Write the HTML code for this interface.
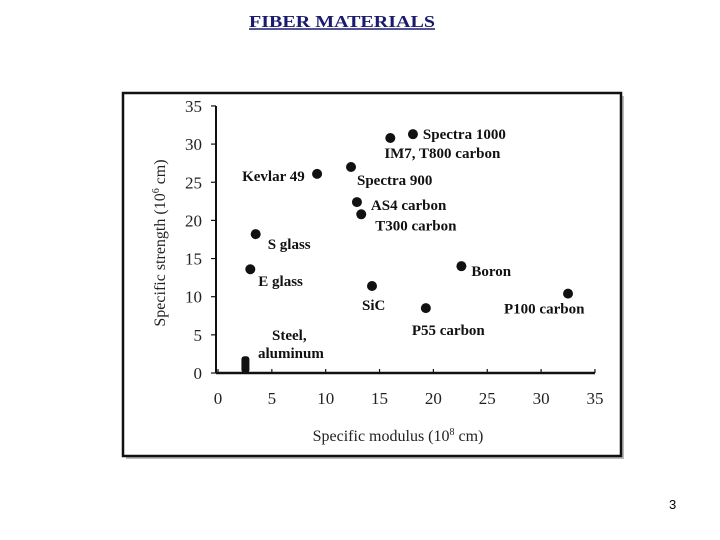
<!DOCTYPE html>
<html><head><meta charset="utf-8"><style>
body{margin:0;background:#fff;}
svg{display:block;}
</style></head><body>
<svg width="720" height="540" viewBox="0 0 720 540" xmlns="http://www.w3.org/2000/svg" font-family="Liberation Serif, serif">
<text x="249" y="27" font-size="17" font-weight="bold" fill="#1a1a6e" textLength="186" lengthAdjust="spacingAndGlyphs">FIBER MATERIALS</text>
<line x1="249" y1="29" x2="435" y2="29" stroke="#1a1a6e" stroke-width="1.4"/>
<rect x="126" y="96" width="498" height="363" fill="#bbb"/>
<rect x="123" y="93" width="498" height="363" fill="#fff" stroke="#111" stroke-width="2.5"/>
<g id="chart"></g>
<text x="669" y="509" font-size="13" font-family="Liberation Sans, sans-serif">3</text>
</svg>
<script>
const names=["Spectra 1000","IM7, T800 carbon","Kevlar 49","Spectra 900","AS4 carbon","T300 carbon","S glass","E glass","SiC","Boron","P55 carbon","P100 carbon"];
const modulus=[18.1,16.0,9.2,12.35,12.9,13.3,3.5,3.0,14.3,22.6,19.3,32.5];
const strength=[31.3,30.8,26.1,27.0,22.4,20.8,18.2,13.6,11.4,14.0,8.5,10.4];
const labelDx=[10,-6,-75,6,14,14,12,8,-10,10,-14,-64];
const labelDy=[5,20,7,18,8,16,15,17,24,10,27,20];
const ticks=[0,5,10,15,20,25,30,35];
const steel=[2.5,2.2];
const NS="http://www.w3.org/2000/svg";
const g=document.getElementById('chart');
const X=v=>218+v*10.77, Y=v=>373-v*7.63;
function el(t,a,txt){const e=document.createElementNS(NS,t);for(const k in a)e.setAttribute(k,a[k]);if(txt!==undefined)e.textContent=txt;g.appendChild(e);return e;}
let a=el('line',{x1:X(0)-2,y1:Y(0),x2:X(35),y2:Y(0),stroke:'#111','stroke-width':2.5});


a=el('line',{x1:X(0)-2,y1:Y(0),x2:X(0)-2,y2:Y(35),stroke:'#111','stroke-width':2});


ticks.forEach(t=>{
 let l=el('line',{x1:X(t),y1:Y(0),x2:X(t),y2:Y(0)-4,stroke:'#111','stroke-width':1.2});
 
 
 let tx=el('text',{x:X(t),y:Y(0)+31,'font-size':17,'text-anchor':'middle',fill:'#222'},String(t));
 
 
 l=el('line',{x1:X(0)-2,y1:Y(t),x2:X(0)-7,y2:Y(t),stroke:'#111','stroke-width':1.2});
 
 
 tx=el('text',{x:X(0)-16,y:Y(t)+6,'font-size':17,'text-anchor':'end',fill:'#222'},String(t));
 
 
});
let t=el('text',{x:398,y:441,'font-size':16,'text-anchor':'middle',fill:'#222'});
t.innerHTML='Specific modulus (10<tspan dy="-6" font-size="10">8</tspan><tspan dy="6"> cm)</tspan>';


t=el('text',{x:165,y:243,'font-size':16,'text-anchor':'middle',fill:'#222',transform:'rotate(-90 165 243)'});
t.innerHTML='Specific strength (10<tspan dy="-6" font-size="10">6</tspan><tspan dy="6"> cm)</tspan>';


let r=el('rect',{x:X(steel[0])-3.5,y:Y(steel[1]),width:8,height:Y(0)-Y(steel[1]),rx:3,fill:'#111'});


t=el('text',{x:272,y:340,'font-size':15,fill:'#111','font-weight':'bold'},'Steel,');


t=el('text',{x:258,y:358,'font-size':15,fill:'#111','font-weight':'bold'},'aluminum');


names.forEach((n,i)=>{
 const cx=X(modulus[i]),cy=Y(strength[i]);
 const c=el('circle',{cx:cx,cy:cy,r:5,fill:'#111'});
 
 
 const l=el('text',{x:cx+labelDx[i],y:cy+labelDy[i],'font-size':15,fill:'#111','font-weight':'bold'},n);
 
 
});
</script>
</body></html>
